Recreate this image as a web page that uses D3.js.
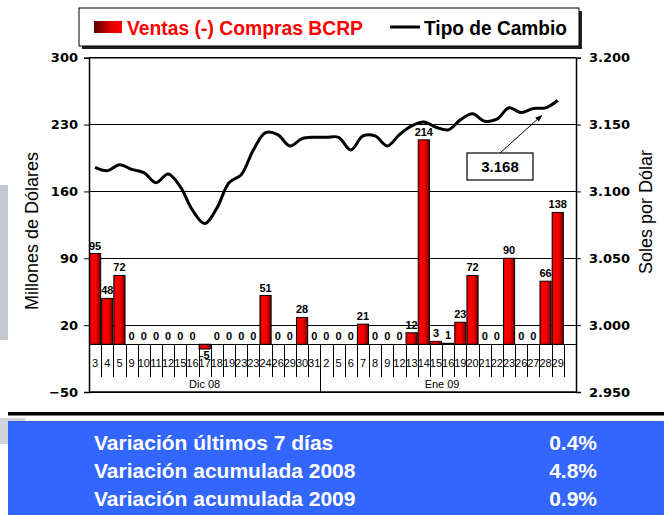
<!DOCTYPE html>
<html><head><meta charset="utf-8">
<script src="https://cdn.jsdelivr.net/npm/d3@7"></script>
<style>html,body{margin:0;padding:0;background:#fff}svg{display:block}</style>
</head><body>
<svg id="c" width="664" height="515"></svg>
<script>
const days = ["3","4","5","9","10","11","12","15","16","17","18","19","23","23","24","26","29","30","31",
  "2","5","6","7","8","9","12","13","14","15","16","19","20","21","22","23","26","27","28","29",""];
const months = ["Dic 08","Ene 09"];
const monthCounts = [19,20];
const ventas = [95,48,72,0,0,0,0,0,0,-5,0,0,0,0,51,0,0,28,0,
  0,0,0,21,0,0,0,12,214,3,1,23,72,0,0,90,0,0,66,138,null];
const tipoCambio = [3.118,3.1155,3.120,3.1165,3.114,3.1065,3.113,3.1035,3.086,3.076,3.0875,3.1065,3.1125,3.131,3.144,3.1425,3.134,3.1395,3.1405,
  3.1405,3.1405,3.131,3.1415,3.1415,3.134,3.1425,3.149,3.152,3.148,3.146,3.1535,3.158,3.1525,3.154,3.1625,3.159,3.162,3.1625,3.168,null];
const leftTicks = [300,230,160,90,20,-50];
const rightTicks = [3.2,3.15,3.1,3.05,3.0,2.95];
const legendLabels = ["Ventas (-) Compras BCRP","Tipo de Cambio"];
const tableLabels = ["Variación últimos 7 días","Variación acumulada 2008","Variación acumulada 2009"];
const tableValues = ["0.4%","4.8%","0.9%"];
const lastLabel = "3.168";

const svg = d3.select("#c");
const L = 89, R = 576, T = 57.7, B = 392;
const x = d3.scaleBand().domain(d3.range(days.length)).range([L,R]).padding(0);
const yL = d3.scaleLinear().domain([-50,300]).range([B,T]);
const yR = d3.scaleLinear().domain([2.95,3.2]).range([B,T]);
const bw = x.bandwidth();
const y0 = yL(0);

const defs = svg.append("defs");
const g1 = defs.append("linearGradient").attr("id","barg").attr("x1","0").attr("x2","1").attr("y1","0").attr("y2","0");
[[0,"#d00000"],[0.25,"#ff0000"],[0.6,"#f00000"],[1,"#700000"]].forEach(s=>g1.append("stop").attr("offset",s[0]).attr("stop-color",s[1]));
const g2 = defs.append("linearGradient").attr("id","legg").attr("x1","0").attr("x2","1").attr("y1","0").attr("y2","0");
[[0,"#5a0000"],[0.6,"#e00000"],[1,"#ff0000"]].forEach(s=>g2.append("stop").attr("offset",s[0]).attr("stop-color",s[1]));
defs.append("marker").attr("id","arr").attr("viewBox","0 0 10 10").attr("refX",9).attr("refY",5)
  .attr("markerWidth",7).attr("markerHeight",7).attr("orient","auto")
  .append("path").attr("d","M0,1 L10,5 L0,9 z").attr("fill","#000");

// decorative grey
svg.append("rect").attr("x",0).attr("y",185).attr("width",8).attr("height",155).attr("fill","#c3c7d0");

// legend
svg.append("rect").attr("x",82).attr("y",11).attr("width",500).attr("height",38).attr("fill","#222");
svg.append("rect").attr("x",79).attr("y",8).attr("width",500).attr("height",38).attr("fill","#fff").attr("stroke","#000").attr("stroke-width",1);
svg.append("rect").attr("x",94).attr("y",21).attr("width",28).attr("height",12).attr("fill","url(#legg)");
svg.append("text").attr("x",127).attr("y",35).text(legendLabels[0])
  .attr("font-family","Liberation Sans, Arial, sans-serif").attr("font-weight","bold").attr("font-size",20)
  .attr("fill","#ff0000").attr("textLength",236).attr("lengthAdjust","spacingAndGlyphs");
svg.append("line").attr("x1",390).attr("x2",420).attr("y1",27).attr("y2",27).attr("stroke","#000").attr("stroke-width",3);
svg.append("text").attr("x",424).attr("y",35).text(legendLabels[1])
  .attr("font-family","Liberation Sans, Arial, sans-serif").attr("font-weight","bold").attr("font-size",20)
  .attr("fill","#000").attr("textLength",143).attr("lengthAdjust","spacingAndGlyphs");

// gridlines
svg.append("g").selectAll("line").data(leftTicks).join("line")
  .attr("x1",L).attr("x2",R).attr("y1",d=>yL(d)).attr("y2",d=>yL(d))
  .attr("stroke","#000").attr("stroke-width",1).attr("shape-rendering","crispEdges");

// bars
svg.append("g").selectAll("rect").data(ventas.map((v,i)=>({v,i})).filter(d=>d.v!==null && d.v!==0)).join("rect")
  .attr("x",d=>x(d.i)+0.5).attr("width",bw-1)
  .attr("y",d=>Math.min(yL(d.v),y0)).attr("height",d=>Math.abs(yL(d.v)-y0))
  .attr("fill","url(#barg)").attr("stroke","#000").attr("stroke-width",1);

// bar labels
svg.append("g").selectAll("text").data(ventas.map((v,i)=>({v,i})).filter(d=>d.v!==null)).join("text")
  .attr("x",d=>x(d.i)+bw/2).attr("y",d=>d.v<0 ? yL(d.v)+10 : yL(d.v)-4)
  .attr("text-anchor","middle").text(d=>d.v)
  .attr("font-family","Liberation Sans, Arial, sans-serif").attr("font-weight","bold").attr("font-size",11).attr("fill","#000");

// category axis
svg.append("line").attr("x1",L).attr("x2",R).attr("y1",y0).attr("y2",y0).attr("stroke","#000").attr("shape-rendering","crispEdges");
svg.append("g").selectAll("line").data(d3.range(1,days.length)).join("line")
  .attr("x1",d=>Math.round(x(d))+0.5).attr("x2",d=>Math.round(x(d))+0.5).attr("y1",y0).attr("y2",377)
  .attr("stroke","#000").attr("stroke-width",1);
svg.append("g").selectAll("text").data(days.map((d,i)=>({d,i}))).join("text")
  .attr("x",d=>x(d.i)+bw/2).attr("y",367).attr("text-anchor","middle").text(d=>d.d)
  .attr("font-family","Liberation Sans Narrow, Arial Narrow, sans-serif").attr("font-size",11).attr("fill","#000");
const starts = [0, monthCounts[0]];
svg.append("line").attr("x1",Math.round(x(starts[1]))+0.5).attr("x2",Math.round(x(starts[1]))+0.5).attr("y1",y0).attr("y2",B).attr("stroke","#000");
svg.append("g").selectAll("text").data(months).join("text")
  .attr("x",(d,i)=>(x(starts[i]) + x(starts[i]+monthCounts[i]-1)+bw)/2).attr("y",388).attr("text-anchor","middle").text(d=>d)
  .attr("font-family","Liberation Sans, Arial, sans-serif").attr("font-size",11).attr("fill","#000");
svg.append("line").attr("x1",L).attr("x2",R).attr("y1",B).attr("y2",B).attr("stroke","#000").attr("stroke-width",1.5);
svg.append("line").attr("x1",L).attr("x2",R).attr("y1",T).attr("y2",T).attr("stroke","#000").attr("stroke-width",1.5);

// axes
const fontAx = "DejaVu Sans, Verdana, sans-serif";
const ax = svg.append("g").attr("transform",`translate(${L},0)`)
  .call(d3.axisLeft(yL).tickValues(leftTicks).tickSize(5).tickPadding(6).tickFormat(d3.format("d")));
const ar = svg.append("g").attr("transform",`translate(${R},0)`)
  .call(d3.axisRight(yR).tickValues(rightTicks).tickSize(5).tickPadding(8).tickFormat(d3.format(".3f")));
[ax,ar].forEach(a=>{
  a.select(".domain").attr("stroke","#000").attr("stroke-width",1.5);
  a.selectAll(".tick line").attr("stroke","#000");
  a.selectAll("text").attr("font-family",fontAx).attr("font-weight","bold").attr("font-size",13).attr("fill","#000");
});

// line
const line = d3.line().defined(d=>d.v!==null).x(d=>x(d.i)+bw/2).y(d=>yR(d.v)).curve(d3.curveCatmullRom.alpha(0.5));
svg.append("path").datum(tipoCambio.map((v,i)=>({v,i}))).attr("d",line)
  .attr("fill","none").attr("stroke","#000").attr("stroke-width",3).attr("stroke-linejoin","round");

// annotation
const lastI = tipoCambio.length-2;
svg.append("line").attr("x1",500).attr("y1",153).attr("x2",x(lastI)-10).attr("y2",yR(tipoCambio[lastI])+15)
  .attr("stroke","#000").attr("stroke-width",1).attr("marker-end","url(#arr)");
svg.append("rect").attr("x",467).attr("y",153).attr("width",66).attr("height",27).attr("fill","#fff").attr("stroke","#000").attr("stroke-width",1.2);
svg.append("text").attr("x",500).attr("y",172).attr("text-anchor","middle").text(lastLabel)
  .attr("font-family","Liberation Sans, Arial, sans-serif").attr("font-weight","bold").attr("font-size",15);

// axis titles
svg.append("text").attr("transform","translate(38,231) rotate(-90)").attr("text-anchor","middle").text("Millones de Dólares")
  .attr("font-family","Liberation Sans, Arial, sans-serif").attr("font-size",18).attr("fill","#000");
svg.append("text").attr("transform","translate(652,212) rotate(-90)").attr("text-anchor","middle").text("Soles por Dólar")
  .attr("font-family","Liberation Sans, Arial, sans-serif").attr("font-size",18).attr("fill","#000");

// table
svg.append("rect").attr("x",8).attr("y",412).attr("width",656).attr("height",3.5).attr("fill","#000");
svg.append("rect").attr("x",0).attr("y",418).attr("width",25).attr("height",26).attr("fill","#d0d3da");
svg.append("rect").attr("x",8).attr("y",421).attr("width",656).attr("height",94).attr("fill","#3366ff");
svg.append("g").selectAll("text").data(tableLabels).join("text")
  .attr("x",94).attr("y",(d,i)=>450+i*28).text(d=>d)
  .attr("font-family","Liberation Sans, Arial, sans-serif").attr("font-weight","bold").attr("font-size",21).attr("fill","#fff");
svg.append("g").selectAll("text").data(tableValues).join("text")
  .attr("x",597).attr("y",(d,i)=>450+i*28).attr("text-anchor","end").text(d=>d)
  .attr("font-family","Liberation Sans, Arial, sans-serif").attr("font-weight","bold").attr("font-size",21).attr("fill","#fff");
</script>
</body></html>
